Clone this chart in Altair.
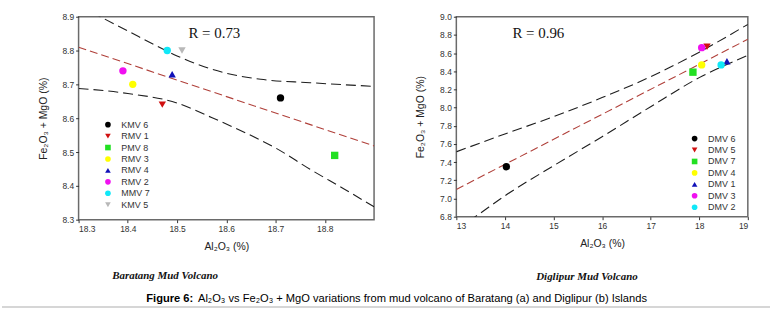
import altair as alt
import pandas as pd

# ---------------- Panel (a): Baratang ----------------
names_a = ["KMV 6", "RMV 1", "PMV 8", "RMV 3", "RMV 4", "RMV 2", "MMV 7", "KMV 5"]
al_a = [18.71, 18.47, 18.82, 18.41, 18.49, 18.39, 18.48, 18.51]
fm_a = [8.66, 8.64, 8.49, 8.70, 8.73, 8.74, 8.80, 8.80]
shape_a = ["circle", "triangle-down", "square", "circle", "triangle-up", "circle", "circle", "triangle-down"]
color_a = ["#000000", "#d01010", "#22e022", "#ffff00", "#1010b8", "#f010f0", "#10e8f8", "#b8b8b8"]

reg_a_x = [18.3, 18.9]
reg_a_y = [8.81, 8.518]
up_a_x = [18.30, 18.344, 18.40, 18.455, 18.50, 18.57, 18.60, 18.67, 18.77, 18.90]
up_a_y = [8.935, 8.90, 8.858, 8.816, 8.784, 8.745, 8.733, 8.715, 8.705, 8.694]
lo_a_x = [18.30, 18.40, 18.50, 18.57, 18.64, 18.70, 18.77, 18.84, 18.90]
lo_a_y = [8.688, 8.673, 8.645, 8.602, 8.556, 8.512, 8.449, 8.39, 8.338]
xticks_a = [18.3, 18.4, 18.5, 18.6, 18.7, 18.8]
yticks_a = [8.3, 8.4, 8.5, 8.6, 8.7, 8.8, 8.9]
r_a = ["R = 0.73"]
r_a_pos = [18.523, 8.838]

# ---------------- Panel (b): Diglipur ----------------
names_b = ["DMV 6", "DMV 5", "DMV 7", "DMV 4", "DMV 1", "DMV 3", "DMV 2"]
al_b = [14.03, 18.16, 17.87, 18.05, 18.57, 18.05, 18.45]
fm_b = [7.35, 8.67, 8.39, 8.47, 8.51, 8.66, 8.47]
shape_b = ["circle", "triangle-down", "square", "circle", "triangle-up", "circle", "circle"]
color_b = ["#000000", "#d01010", "#22e022", "#ffff00", "#1010b8", "#f010f0", "#10e8f8"]

reg_b_x = [13.0, 19.0]
reg_b_y = [7.10, 8.752]
up_b_x = [13, 14, 15, 16, 17, 18, 19]
up_b_y = [7.514, 7.71, 7.90, 8.11, 8.34, 8.61, 8.916]
lo_b_x = [13, 13.39, 14, 15, 16, 17, 18, 19]
lo_b_y = [6.66, 6.80, 7.03, 7.36, 7.68, 8.01, 8.33, 8.575]
xticks_b = [13, 14, 15, 16, 17, 18, 19]
yticks_b = [6.8, 7.0, 7.2, 7.4, 7.6, 7.8, 8.0, 8.2, 8.4, 8.6, 8.8, 9.0]
r_b = ["R = 0.96"]
r_b_pos = [14.154, 8.77]

# ---------------- Texts ----------------
x_title = "Al₂O₃ (%)"
y_title = "Fe₂O₃ + MgO (%)"
sub_a = "Baratang Mud Volcano"
sub_b = "Diglipur Mud Volcano"
fig_bold = "Figure 6:"
fig_rest = "Al₂O₃ vs Fe₂O₃ + MgO variations from mud volcano of Baratang (a) and Diglipur (b) Islands"

SANS = "Liberation Sans"
SERIF = "Liberation Serif"


def panel(names, xs, ys, shapes, colors, reg_x, reg_y, up_x, up_y, lo_x, lo_y,
          xdom, ydom, xvals, yvals, xfmt, yfmt, rtext, rpos, lx, ly, w, h, rowpad, ytp):
    xsc = alt.Scale(domain=xdom, nice=False, zero=False)
    ysc = alt.Scale(domain=ydom, nice=False, zero=False)
    xax = alt.Axis(values=xvals, format=xfmt, title=x_title, titlePadding=8)
    yax = alt.Axis(values=yvals, format=yfmt, title=y_title, titlePadding=ytp)
    X = alt.X("al:Q", scale=xsc, axis=xax)
    Y = alt.Y("fm:Q", scale=ysc, axis=yax)

    bands = pd.DataFrame({
        "al": up_x + lo_x,
        "fm": up_y + lo_y,
        "band": ["upper"] * len(up_x) + ["lower"] * len(lo_x),
    })
    band_layer = alt.Chart(bands).mark_line(
        color="#1e1e1e", strokeDash=[10, 5], strokeWidth=1.1, clip=True, interpolate="monotone"
    ).encode(x=X, y=Y, detail="band:N")

    reg_layer = alt.Chart(pd.DataFrame({"al": reg_x, "fm": reg_y})).mark_line(
        color="#b0403a", strokeDash=[8, 4], strokeWidth=1.1, clip=True
    ).encode(x=X, y=Y)

    leg = dict(title=None, orient="none", legendX=lx, legendY=ly, labelFont=SANS,
               labelFontSize=9, labelColor="#333333", symbolSize=32, symbolStrokeWidth=0,
               rowPadding=rowpad, labelOffset=9, padding=0)
    pts = pd.DataFrame({"name": names, "al": xs, "fm": ys})
    pt_layer = alt.Chart(pts).mark_point(filled=True, size=55, opacity=1).encode(
        x=X, y=Y,
        color=alt.Color("name:N", scale=alt.Scale(domain=names, range=colors),
                        sort=names, legend=alt.Legend(**leg)),
        shape=alt.Shape("name:N", scale=alt.Scale(domain=names, range=shapes),
                        sort=names, legend=alt.Legend(**leg)),
    )

    rdf = pd.DataFrame({"al": [rpos[0]], "fm": [rpos[1]], "t": rtext})
    r_layer = alt.Chart(rdf).mark_text(
        align="left", baseline="alphabetic", font=SERIF, fontSize=15, color="#111111"
    ).encode(x=X, y=Y, text="t:N")

    return [band_layer, reg_layer, pt_layer, r_layer], w, h


layers_a, wa, ha = panel(names_a, al_a, fm_a, shape_a, color_a, reg_a_x, reg_a_y,
                         up_a_x, up_a_y, lo_a_x, lo_a_y, [18.3, 18.9], [8.3, 8.9],
                         xticks_a, yticks_a, ".1f", ".1f", r_a, r_a_pos, 25, 104, 297, 204, 1.5, 13)
layers_b, wb, hb = panel(names_b, al_b, fm_b, shape_b, color_b, reg_b_x, reg_b_y,
                         up_b_x, up_b_y, lo_b_x, lo_b_y, [13, 19], [6.8, 9.0],
                         xticks_b, yticks_b, "d", ".1f", r_b, r_b_pos, 235, 118, 293, 201, 1.5, 14)

# captions placed relative to the left panel's plot origin
cap_df = pd.DataFrame({"k": [0]})
cap = alt.Chart(cap_df)
sub1 = cap.mark_text(font=SERIF, fontStyle="italic", fontWeight="bold", fontSize=11,
                     align="center", baseline="middle", color="#111111").encode(
    x=alt.value(87), y=alt.value(260.3), text=alt.value(sub_a))
sub2 = cap.mark_text(font=SERIF, fontStyle="italic", fontWeight="bold", fontSize=11,
                     align="center", baseline="middle", color="#111111").encode(
    x=alt.value(511), y=alt.value(262), text=alt.value(sub_b))
fig1 = cap.mark_text(font=SANS, fontWeight="bold", fontSize=11.2, align="left",
                     baseline="middle", color="#000000").encode(
    x=alt.value(68), y=alt.value(283.3), text=alt.value(fig_bold))
fig2 = cap.mark_text(font=SANS, fontSize=11.2, align="left",
                     baseline="middle", color="#000000").encode(
    x=alt.value(120), y=alt.value(283.3), text=alt.value(fig_rest))
rule = cap.mark_rule(color="#c8c8c8", strokeWidth=1.5).encode(
    x=alt.value(-77), x2=alt.value(695), y=alt.value(291.8))

left = alt.layer(*layers_a, sub1, sub2, fig1, fig2, rule).resolve_scale(
    color="independent", shape="independent").properties(width=wa, height=ha)
right = alt.layer(*layers_b).properties(width=wb, height=hb)

chart = alt.hconcat(left, right, spacing=82.7, bounds="flush").resolve_scale(
    color="independent", shape="independent"
).properties(
    padding={"left": 0, "top": 11, "right": 0, "bottom": 2}
).configure_view(
    stroke="#6a6a6a", strokeWidth=1.5
).configure_axis(
    domain=False, grid=False, ticks=True, tickSize=3, tickColor="#333333", tickWidth=1,
    labelFont=SANS, labelFontSize=8.5, labelColor="#333333", labelPadding=2,
    titleFont=SANS, titleFontSize=10.5, titleFontWeight="normal", titleColor="#222222"
)

chart.save("out.html", embed_options={"renderer": "svg", "actions": False})
